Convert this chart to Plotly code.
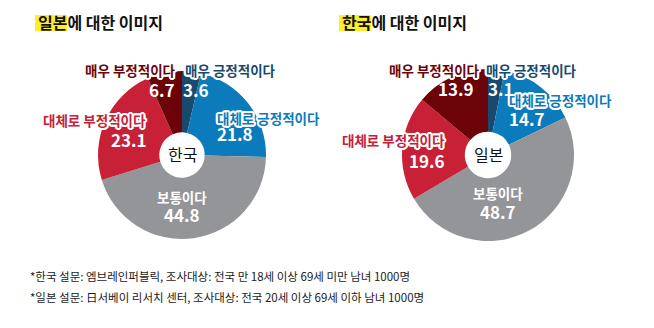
import plotly.graph_objects as go
import math

categories = ["매우 긍정적이다", "대체로 긍정적이다", "보통이다", "대체로 부정적이다", "매우 부정적이다"]
japan_image = [3.6, 21.8, 44.8, 23.1, 6.7]   # 한국인의 일본에 대한 이미지
korea_image = [3.1, 14.7, 48.7, 19.6, 13.9]  # 일본인의 한국에 대한 이미지
titles = [("일본", "에 대한 이미지"), ("한국", "에 대한 이미지")]
centers = ["한국", "일본"]
colors = ["#174a6d", "#0b7bbb", "#949599", "#c82037", "#6b0309"]
footnotes = [
    "*한국 설문: 엠브레인퍼블릭, 조사대상: 전국 만 18세 이상 69세 미만 남녀 1000명",
    "*일본 설문: 日서베이 리서치 센터, 조사대상: 전국 20세 이상 69세 이하 남녀 1000명",
]

W, H = 654, 328
FONT = "Noto Sans CJK KR"
OUTLINE = ", ".join(
    f"{2*math.cos(a*math.pi/8):.2f}px {2*math.sin(a*math.pi/8):.2f}px 0 #fff" for a in range(16)
)

def px(x):
    return x / W

def py(y):
    return 1 - y / H

fig = go.Figure()

# pie geometry in pixels: (cx, cy, r)
geoms = [(182, 155, 84), (488, 155, 86)]
datasets = [japan_image, korea_image]
for (cx, cy, r), vals in zip(geoms, datasets):
    fig.add_trace(go.Pie(
        labels=categories, values=vals, sort=False, direction="clockwise", rotation=0,
        hole=0.27, marker=dict(colors=colors, line=dict(width=0)),
        textinfo="none", hoverinfo="label+value", showlegend=False,
        domain=dict(x=[px(cx - r), px(cx + r)], y=[py(cy + r), py(cy - r)]),
    ))

annotations = []

def label(x, y, text, color, anchor="center", size=13.5, outline=True):
    annotations.append(dict(
        x=px(x), y=py(y), xref="paper", yref="paper", text=text, showarrow=False,
        xanchor=anchor, yanchor="middle",
        font=dict(family=FONT, size=size, color=color, weight="bold",
                  shadow=OUTLINE if outline else "none"),
    ))

# positions (pixels) for category labels and values, per pie, in category order
label_pos = [
    [(183, 70, "left"), (215, 118, "left"), (182, 197, "center"), (148, 120, "right"), (178, 70, "right")],
    [(484, 70, "left"), (507, 100, "left"), (498, 193, "center"), (447, 140, "right"), (482, 70, "right")],
]
value_pos = [
    [(181, 89, "left"), (215, 134, "left"), (182, 214, "center"), (149, 140, "right"), (177, 89, "right")],
    [(486, 88, "left"), (507, 118, "left"), (498, 211, "center"), (447, 160, "right"), (476, 88, "right")],
]

for p, vals in enumerate(datasets):
    for i, cat in enumerate(categories):
        lx, ly, la = label_pos[p][i]
        col = "#ffffff" if i == 2 else colors[i]
        label(lx, ly, cat, col, la, size=13.5, outline=(i != 2))
        vx, vy, va = value_pos[p][i]
        label(vx, vy, f"{vals[i]:.1f}", "#ffffff", va, size=17, outline=False)
    cx, cy, r = geoms[p]
    annotations.append(dict(
        x=px(cx), y=py(cy - 1), xref="paper", yref="paper", text=centers[p], showarrow=False,
        xanchor="center", yanchor="middle", font=dict(family=FONT, size=16, color="#111111"),
    ))

# titles with yellow highlight
shapes = []
title_x = [36, 340]
for tx, (hl, rest) in zip(title_x, titles):
    shapes.append(dict(type="rect", xref="paper", yref="paper",
                       x0=px(tx - 1), x1=px(tx + 31), y0=py(31), y1=py(15),
                       fillcolor="#fbef2a", line=dict(width=0), layer="below"))
    annotations.append(dict(
        x=px(tx), y=py(22), xref="paper", yref="paper",
        text=f"{hl}{rest}", showarrow=False, xanchor="left", yanchor="middle",
        font=dict(family=FONT, size=16, color="#111111", weight="bold"),
    ))

for k, t in enumerate(footnotes):
    annotations.append(dict(
        x=px(28), y=py(276 + 21 * k), xref="paper", yref="paper", text=t, showarrow=False,
        xanchor="left", yanchor="middle", font=dict(family=FONT, size=11.5, color="#1a1a1a"),
    ))

fig.update_layout(
    width=W, height=H, margin=dict(l=0, r=0, t=0, b=0),
    paper_bgcolor="#ffffff", plot_bgcolor="#ffffff",
    annotations=annotations, shapes=shapes,
)
fig.write_html("out.html")
